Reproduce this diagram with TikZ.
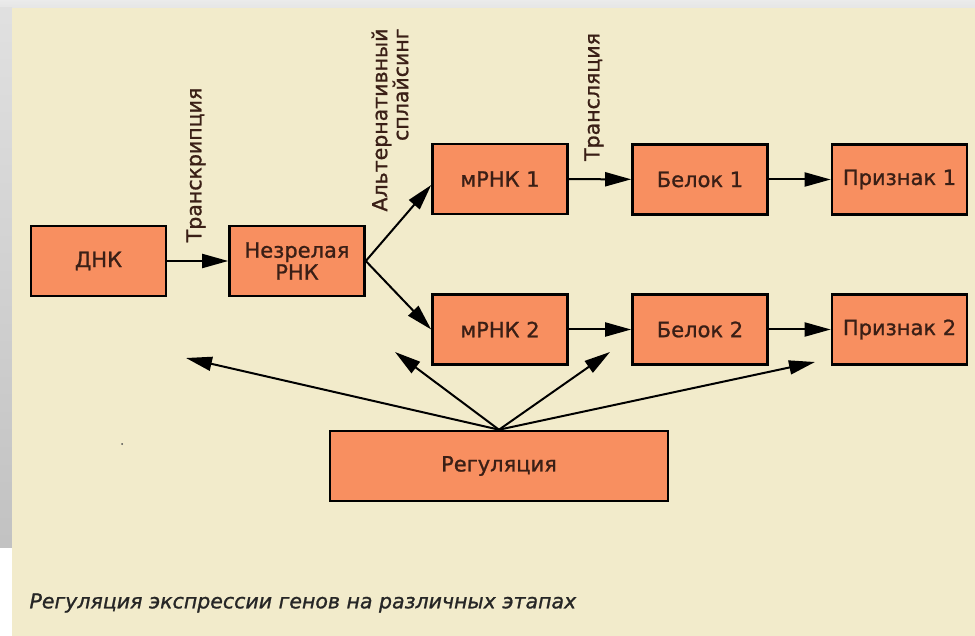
\documentclass[tikz,border=0pt]{standalone}
\usepackage{fontspec}
\setmainfont{DejaVu Sans}[BoldFont={DejaVu Sans},BoldFeatures={FakeBold=1.1},
  BoldItalicFont={DejaVu Sans Oblique},BoldItalicFeatures={FakeBold=1.1}]
\usepackage{tikz}
\usetikzlibrary{arrows.meta,positioning}
\definecolor{cream}{HTML}{F2EBCB}
\definecolor{boxfill}{HTML}{F88F60}
\definecolor{inkbrown}{HTML}{3A1F16}
\tikzset{box/.style={draw=black,line width=2.6pt,fill=boxfill,text=inkbrown,minimum width=135pt,minimum height=70pt,align=center,font=\fontsize{21}{22}\selectfont\bfseries},
  link/.style={line width=2pt,-{Triangle[length=26pt,width=14pt]}},
  note/.style={rotate=90,text=inkbrown,font=\fontsize{20.5}{21}\selectfont\bfseries}}

\begin{document}
\begin{tikzpicture}[x=1pt,y=-1pt]
    % background and frame
    \useasboundingbox (0,0) rectangle (975,636);
    \fill[white] (0,0) rectangle (975,636);
    \shade[top color=black!8,bottom color=black!10] (0,0) rectangle (975,8);
    \shade[top color=black!12,bottom color=black!24] (0,8) rectangle (12,547);
    \fill[cream] (12,8) rectangle (975,636);
    \fill[black!70] (122,444) circle (1);

    \node[box] (dna) at (98.5,261) {ДНК};
    \node[box] (rna) at (297,261) {Незрелая\\РНК};
    \node[box] (mrnaa) at (500,179) {мРНК 1};
    \node[box] (mrnab) at (500,329.5) {мРНК 2};
    \node[box] (proa) at (700,179.5) {Белок 1};
    \node[box] (prob) at (700,329.5) {Белок 2};
    \node[box] (trta) at (899.5,179.5) {Признак 1};
    \node[box] (trtb) at (899.5,329.5) {Признак 2};
    \node[box,minimum width=338pt] (reg) at (499,466) {Регуляция};

    \node[note] (tscr) at (196,165) {Транскрипция};
    \node[note,align=right] (splc) at (390,120) {Альтернативный\\сплайсинг};
    \node[note] (tsln) at (594,97) {Трансляция};

    \draw[link] (dna) -- (rna);
    \draw[link] (rna.east) -- (mrnaa.185);
    \draw[link] (rna.east) -- (mrnab.west);
    \draw[link] (mrnaa) -- (proa);
    \draw[link] (mrnab) -- (prob);
    \draw[link] (proa) -- (trta);
    \draw[link] (prob) -- (trtb);

    % regulation targets
    \coordinate (ra) at (186,358);
    \coordinate (rb) at (395,352);
    \coordinate (rc) at (610,352);
    \coordinate (rd) at (815,362);
    \foreach \t in {ra,rb,rc,rd} {
        \draw[link] (reg.north) -- (\t);
    }

    \node[anchor=west,text=black!85,font=\fontsize{20.5}{22}\selectfont\bfseries\itshape] (capt) at (26,603)
        {Регуляция экспрессии генов на различных этапах};
\end{tikzpicture}
\end{document}
